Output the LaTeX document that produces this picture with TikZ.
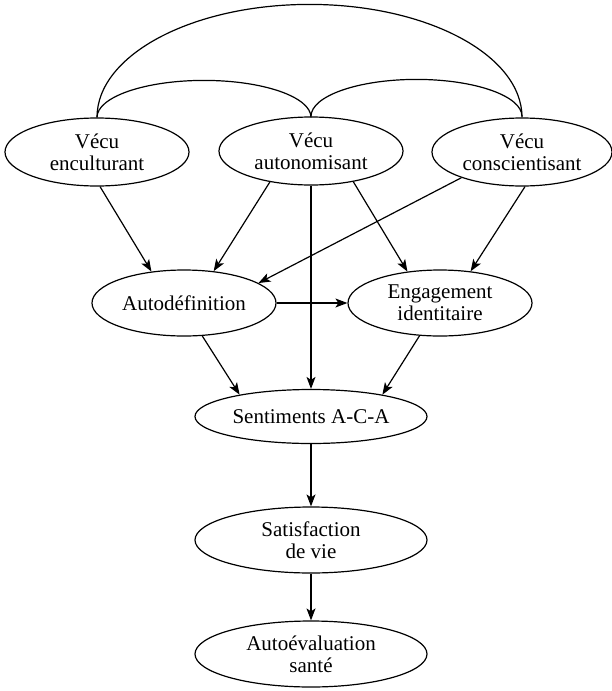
\documentclass[tikz,border=0pt]{standalone}
\usepackage{fontspec}
\setmainfont{Liberation Serif}
\usetikzlibrary{arrows.meta,shapes.geometric}
\begin{document}
\begin{tikzpicture}[x=1pt,y=1pt,
  box/.style={ellipse,draw,line width=1.2pt,inner sep=0pt,align=center,
    font=\fontsize{21}{22}\selectfont},
  top/.style={box,minimum width=184pt,minimum height=68pt},
  mid/.style={box,minimum width=184pt,minimum height=66pt},
  low/.style={box,minimum width=232pt,minimum height=66pt},
  conn/.style={line width=1.2pt,-{Stealth[length=12pt,width=9pt,inset=3pt]}},
  link/.style={line width=1.2pt}]
\useasboundingbox (0,0) rectangle (611,-691);
\node[top] (ve) at (97,-152) {Vécu\\enculturant};
\node[top] (va) at (311,-151) {Vécu\\autonomisant};
\node[top,minimum width=180pt] (vc) at (522,-152) {Vécu\\conscientisant};
\node[mid] (ad) at (184,-303) {Autodéfinition};
\node[mid] (en) at (440,-303) {Engagement\\identitaire};
\node[low,minimum height=54pt] (se) at (311,-416.5) {Sentiments A-C-A};
\node[low] (sa) at (311,-540) {Satisfaction\\de vie};
\node[low] (au) at (311,-654) {Autoévaluation\\santé};
% arcs
\draw[link] (ve.north) arc[start angle=180,end angle=0,x radius=212.5,y radius=113];
\draw[link] (ve.north) arc[start angle=180,end angle=0,x radius=107,y radius=37];
\draw[link] (va.north) arc[start angle=180,end angle=0,x radius=105.5,y radius=37];
% arrows
\draw[conn] (ve.275) -- (ad.136);
\draw[conn] (va.217) -- (ad.47);
\draw[conn] (va.south) -- (se.north);
\draw[conn] (va.324) -- (en.136);
\draw[conn] (vc.203) -- (ad.15);
\draw[conn] (vc.275) -- (en.46);
\draw[conn] (ad.east) -- (en.west);
\draw[conn] (ad.299) -- (se.163);
\draw[conn] (en.238) -- (se.17);
\draw[conn] (se.south) -- (sa.north);
\draw[conn] (sa.south) -- (au.north);
\end{tikzpicture}
\end{document}
